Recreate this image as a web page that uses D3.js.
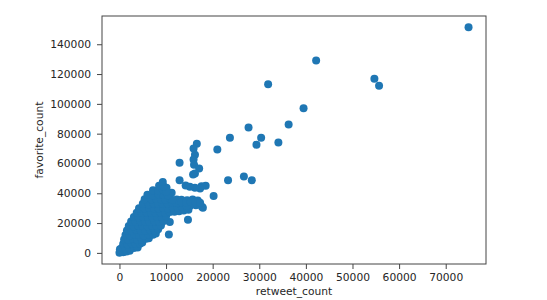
<!DOCTYPE html>
<html>
<head>
<meta charset="utf-8">
<script src="https://cdnjs.cloudflare.com/ajax/libs/d3/7.8.5/d3.min.js"></script>
<style>
  body { margin: 0; background: #fff; }
  text { font-family: "DejaVu Sans", sans-serif; fill: #262626; }
</style>
</head>
<body>
<svg id="chart" width="547" height="300"></svg>
<script>
// [retweet_count, favorite_count] pairs
const outliers = [
  [74900,151400],[42200,129100],[31900,113100],[54700,116900],[55700,112200],
  [39500,97100],[36300,86100],[27700,84200],[23700,77300],[30400,77300],
  [29400,72600],[34100,74100],[21000,69300],[16600,73300],[15900,70000],
  [16200,65900],[15900,62600],[16000,59200],[17100,56600],[16200,53200],
  [15800,52600],[12900,60400],[23300,48700],[26700,51200],[28400,48700],
  [20200,38100],[18500,45000],[17600,44700],[17300,43200],[16200,43700],
  [15100,44300],[14200,45200],[12900,48700],[17700,31000],[17900,30300],
  [14700,22300],[10800,20700],[10600,12300]
];

const bandPoints = [
  [11200,40300],[12300,35900],[10100,43700],[13300,35600],[14500,35300],
  [15700,35800],[16800,35200],[15100,31400]
];

const corePoints = [
  [0,100],[300,1200],[800,400],[1500,900],[2200,1500],[100,2500],
  [500,3200],[1300,3000],[2200,2800],[3100,3300],[3900,3600],
  [800,6000],[1700,5800],[2600,6300],[3500,5900],[4400,6200],[4900,7000],
  [1000,9000],[1900,8700],[2900,9300],[3800,8800],[4800,9200],[5700,9400],[6300,9800],
  [1300,12000],[2200,11800],[3200,12400],[4200,12000],[5200,11700],[6200,12300],[7200,12100],[7800,13000],
  [1600,15000],[2600,14700],[3600,15300],[4600,15000],[5600,14800],[6600,15400],[7600,15000],[8300,15800],
  [2000,18000],[3000,17800],[4000,18300],[5000,18000],[6000,17700],[7000,18200],[8000,18000],[8900,18400],
  [2500,21000],[3500,20700],[4500,21300],[5500,21000],[6500,20800],[7500,21200],[8500,21000],[9500,21400],
  [3100,24000],[4100,23800],[5100,24300],[6100,24000],[7100,23700],[8100,24200],[9100,24000],[10000,24500],
  [3700,27000],[4800,26800],[5800,27300],[6800,27000],[7800,26700],[8800,27200],[9800,27000],[10800,27400],
  [11800,27600],[12800,28000],[13800,28400],[14800,29000],
  [4200,30000],[5400,29800],[6400,30300],[7400,30000],[8400,29700],[9400,30200],[10400,30000],[11400,30400],
  [12400,30600],[13400,30900],[14400,31500],[16400,32000],
  [5000,33000],[6300,32700],[7300,33300],[8300,33000],[9300,32800],[10300,33200],[11300,33400],[12300,33500],
  [13300,34000],[14300,33800],[15300,34200],[16300,33900],[17300,33700],
  [5400,36000],[6900,35800],[7900,36300],[8900,36000],[9900,35700],[10900,36200],[11300,35500],
  [6000,39000],[7200,38700],[8400,39300],[9400,39000],[10400,38600],
  [7200,42000],[8300,41800],[9300,42300],[10000,41200],
  [8500,45000],[9500,44600],
  [9300,47600]
];

const xTicks = [0, 10000, 20000, 30000, 40000, 50000, 60000, 70000];
const yTicks = [0, 20000, 40000, 60000, 80000, 100000, 120000, 140000];

const tweets = outliers.concat(bandPoints, corePoints);

let svg = d3.select("#chart");
const margin = {left: 102, top: 16, right: 61, bottom: 36};
const width = 547 - margin.left - margin.right;
const height = 300 - margin.top - margin.bottom;

// matplotlib style 5% padding around data extent
function padded(ext) {
  let pad = (ext[1] - ext[0]) * 0.05;
  return [ext[0] - pad, ext[1] + pad];
}

let x = d3.scaleLinear()
  .domain(padded(d3.extent(tweets, d => d[0])))
  .range([0, width]);
let y = d3.scaleLinear()
  .domain(padded(d3.extent(tweets, d => d[1])))
  .range([height, 0]);

let g = svg.append("g")
  .attr("transform", "translate(" + margin.left + "," + margin.top + ")");

// points
g.selectAll("circle")
  .data(tweets)
  .join("circle")
  .attr("cx", d => x(d[0]))
  .attr("cy", d => y(d[1]))
  .attr("r", 4)
  .style("fill", "#1f77b4");

// frame
g.append("rect")
  .attr("width", width)
  .attr("height", height)
  .style("fill", "none")
  .style("stroke", "#444")
  .style("stroke-width", 1);

let xAxis = g.append("g")
  .attr("transform", "translate(0," + height + ")")
  .call(d3.axisBottom(x).tickValues(xTicks).tickFormat(d3.format("d")).tickSize(5).tickPadding(4));
let yAxis = g.append("g")
  .call(d3.axisLeft(y).tickValues(yTicks).tickFormat(d3.format("d")).tickSize(5).tickPadding(6));

for (let ax of [xAxis, yAxis]) {
  ax.select(".domain").remove();
  ax.selectAll("line").style("stroke", "#444");
  ax.selectAll("text")
    .style("font-family", "DejaVu Sans")
    .style("font-size", "10.7px")
    .style("fill", "#262626");
}

// axis labels
svg.append("text")
  .attr("x", margin.left + width / 2)
  .attr("y", 295)
  .attr("text-anchor", "middle")
  .style("font-size", "10.7px")
  .text("retweet_count");

svg.append("text")
  .attr("transform", "translate(43," + (margin.top + height / 2) + ") rotate(-90)")
  .attr("text-anchor", "middle")
  .style("font-size", "10.7px")
  .text("favorite_count");
</script>
</body>
</html>
